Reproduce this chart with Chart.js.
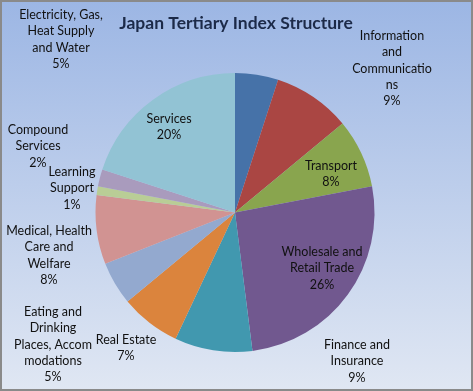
<!DOCTYPE html>
<html>
<head>
<meta charset="utf-8">
<script src="https://cdn.jsdelivr.net/npm/chart.js@4.4.1/dist/chart.umd.min.js"></script>
<style>
  html, body { margin: 0; padding: 0; background: #fff; }
  #wrap { width: 473px; height: 391px; position: relative; }
</style>
</head>
<body>
<div id="wrap"><canvas id="pie"></canvas></div>
<script>
// data
const categories = [
    'Electricity, Gas, Heat Supply and Water',
    'Information and Communications',
    'Transport',
    'Wholesale and Retail Trade',
    'Finance and Insurance',
    'Real Estate',
    'Eating and Drinking Places, Accommodations',
    'Medical, Health Care and Welfare',
    'Learning Support',
    'Compound Services',
    'Services'
];
const shares = [5, 9, 8, 26, 9, 7, 5, 8, 1, 2, 20];

// label text as wrapped in the picture
const labelLines = [
    ['Electricity, Gas,', 'Heat Supply', 'and Water'],
    ['Information', 'and', 'Communicatio', 'ns'],
    ['Transport'],
    ['Wholesale and', 'Retail Trade'],
    ['Finance and', 'Insurance'],
    ['Real Estate'],
    ['Eating and', 'Drinking', 'Places, Accom', 'modations'],
    ['Medical, Health', 'Care and', 'Welfare'],
    ['Learning', 'Support'],
    ['Compound', 'Services'],
    ['Services']
];

// where each label block sits (center x, first line y)
const labelPos = [
    [61, 15], [392, 36], [331, 166], [322, 252], [357, 345], [126, 340],
    [53, 312], [49, 231], [72, 172], [38, 130], [169, 119]
];

const sliceColors = [
    '#4672a8', '#aa4643', '#89a54e', '#71588f', '#4198af', '#db843d',
    '#93a9cf', '#d19392', '#b9cd96', '#a99bbd', '#92c3d4'
];

// background + border
const bgPlugin = {
    id: 'bg',
    beforeDraw(chart) {
        const c = chart.ctx;
        const w = chart.width, h = chart.height;
        let g = c.createLinearGradient(0, 0, 0, h);
        g.addColorStop(0, '#9cb6e4');
        g.addColorStop(1, '#e0e7f3');
        c.save();
        c.fillStyle = g;
        c.fillRect(0, 0, w, h);
        c.strokeStyle = '#8a8a8a';
        c.lineWidth = 2;
        c.strokeRect(1, 1, w - 2, h - 2);
        c.restore();
    }
};

// title and data labels
const textPlugin = {
    id: 'texts',
    afterDraw(chart) {
        const c = chart.ctx;
        c.save();
        c.textAlign = 'center';
        c.textBaseline = 'middle';
        c.fillStyle = '#1c2a48';
        c.font = 'bold 17.5px Lato, "Open Sans", sans-serif';
        c.fillText('Japan Tertiary Index Structure', 236, 23);

        c.font = '12.5px Lato, "Open Sans", sans-serif';
        c.fillStyle = '#111';
        let total = shares.reduce((a, b) => a + b, 0);
        labelLines.forEach((lines, i) => {
            let x = labelPos[i][0];
            let y = labelPos[i][1];
            let all = lines.concat([Math.round(shares[i] / total * 100) + '%']);
            all.forEach((t, k) => {
                c.fillText(t, x, y + k * 16.3);
            });
        });
        c.restore();
    }
};

let canvas = document.getElementById('pie');
canvas.width = 473;
canvas.height = 391;

new Chart(canvas.getContext('2d'), {
    type: 'pie',
    data: {
        labels: categories,
        datasets: [{
            data: shares,
            backgroundColor: sliceColors,
            borderWidth: 0
        }]
    },
    options: {
        responsive: false,
        animation: false,
        layout: { padding: { top: 73, bottom: 39, left: 86, right: 89 } },
        plugins: {
            legend: { display: false },
            tooltip: { enabled: false }
        }
    },
    plugins: [bgPlugin, textPlugin]
});
</script>
</body>
</html>
